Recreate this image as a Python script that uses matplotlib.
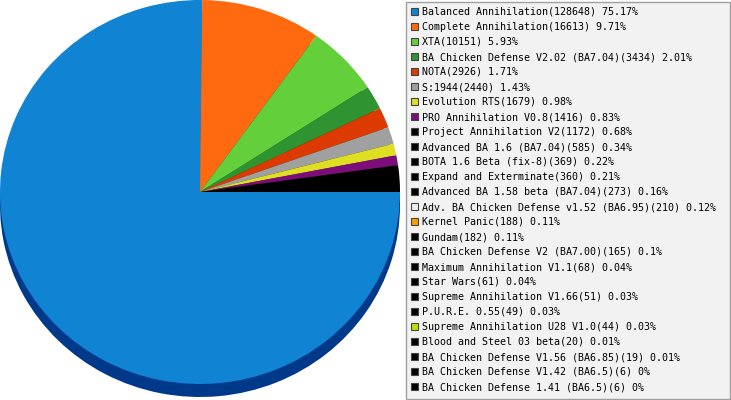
import numpy as np
import matplotlib
matplotlib.use("Agg")
import matplotlib.pyplot as plt
from matplotlib.colors import to_rgb
from matplotlib.patches import Rectangle

mods = ["Balanced Annihilation", "Complete Annihilation", "XTA",
        "BA Chicken Defense V2.02 (BA7.04)", "NOTA", "S:1944",
        "Evolution RTS", "PRO Annihilation V0.8", "Project Annihilation V2",
        "Advanced BA 1.6 (BA7.04)", "BOTA 1.6 Beta (fix-8)",
        "Expand and Exterminate", "Advanced BA 1.58 beta (BA7.04)",
        "Adv. BA Chicken Defense v1.52 (BA6.95)", "Kernel Panic", "Gundam",
        "BA Chicken Defense V2 (BA7.00)", "Maximum Annihilation V1.1",
        "Star Wars", "Supreme Annihilation V1.66", "P.U.R.E. 0.55",
        "Supreme Annihilation U28 V1.0", "Blood and Steel 03 beta",
        "BA Chicken Defense V1.56 (BA6.85)", "BA Chicken Defense V1.42 (BA6.5)",
        "BA Chicken Defense 1.41 (BA6.5)"]
games = [128648, 16613, 10151, 3434, 2926, 2440, 1679, 1416, 1172, 585, 369,
         360, 273, 210, 188, 182, 165, 68, 61, 51, 49, 44, 20, 19, 6, 6]
pcts = ["75.17", "9.71", "5.93", "2.01", "1.71", "1.43", "0.98", "0.83",
        "0.68", "0.34", "0.22", "0.21", "0.16", "0.12", "0.11", "0.11", "0.1",
        "0.04", "0.04", "0.03", "0.03", "0.03", "0.01", "0.01", "0", "0"]
colors = ["#1083d3", "#ff6a10", "#62cf3b", "#2e9431", "#dc3a00", "#a0a0a0",
          "#dede22", "#7d0c7d", "#000000", "#000000", "#000000", "#000000",
          "#000000", "#eeeeee", "#f5a000", "#000000", "#000000", "#000000",
          "#000000", "#000000", "#000000", "#b8e000", "#000000", "#000000",
          "#000000", "#000000"]
N_SHOWN = 8  # remaining small mods are drawn as one black wedge

pie_vals = games[:N_SHOWN] + [sum(games[N_SHOWN:])]
pie_cols = colors[:N_SHOWN] + ["#000000"]
dark_cols = [tuple(c * 0.35 for c in to_rgb(col)) for col in pie_cols]
dark_cols[0] = "#00388a"

W, H = 731, 400
fig = plt.figure(figsize=(W / 100, H / 100), dpi=100)

# pie with a little 3D depth
ax = fig.add_axes([0, 0, 400 / W, 1])
depth = 13 / 192
ax.pie(pie_vals, colors=dark_cols, startangle=0, counterclock=False,
       center=(0, -depth), wedgeprops=dict(linewidth=0))
ax.pie(pie_vals, colors=pie_cols, startangle=0, counterclock=False,
       center=(0, 0), wedgeprops=dict(linewidth=0))
ax.set_aspect("auto")
ax.set_xlim(-1, 1)
ax.set_ylim(1 - 400 / 192, 1)
ax.axis("off")

# legend box, in pixel coords
lx0 = 405
lg = fig.add_axes([lx0 / W, 0, (W - lx0) / W, 1])
lg.set_xlim(0, W - lx0)
lg.set_ylim(H, 0)
lg.axis("off")
lg.add_patch(Rectangle((0.5, 1.5), W - lx0 - 1.5, 397, facecolor="#f2f2f2",
                       edgecolor="#a0a0a0", linewidth=1))
for i, (m, g, p, c) in enumerate(zip(mods, games, pcts, colors)):
    y = 12 + 15 * i
    lg.add_patch(Rectangle((6, y - 4), 7, 7, facecolor=c,
                           edgecolor="#444444", linewidth=0.8))
    lg.text(17, y, f"{m}({g}) {p}%", fontsize=7.2,
            family="DejaVu Sans Mono", va="center", ha="left",
            color="#000000")

fig.savefig("out.png", dpi=100)
